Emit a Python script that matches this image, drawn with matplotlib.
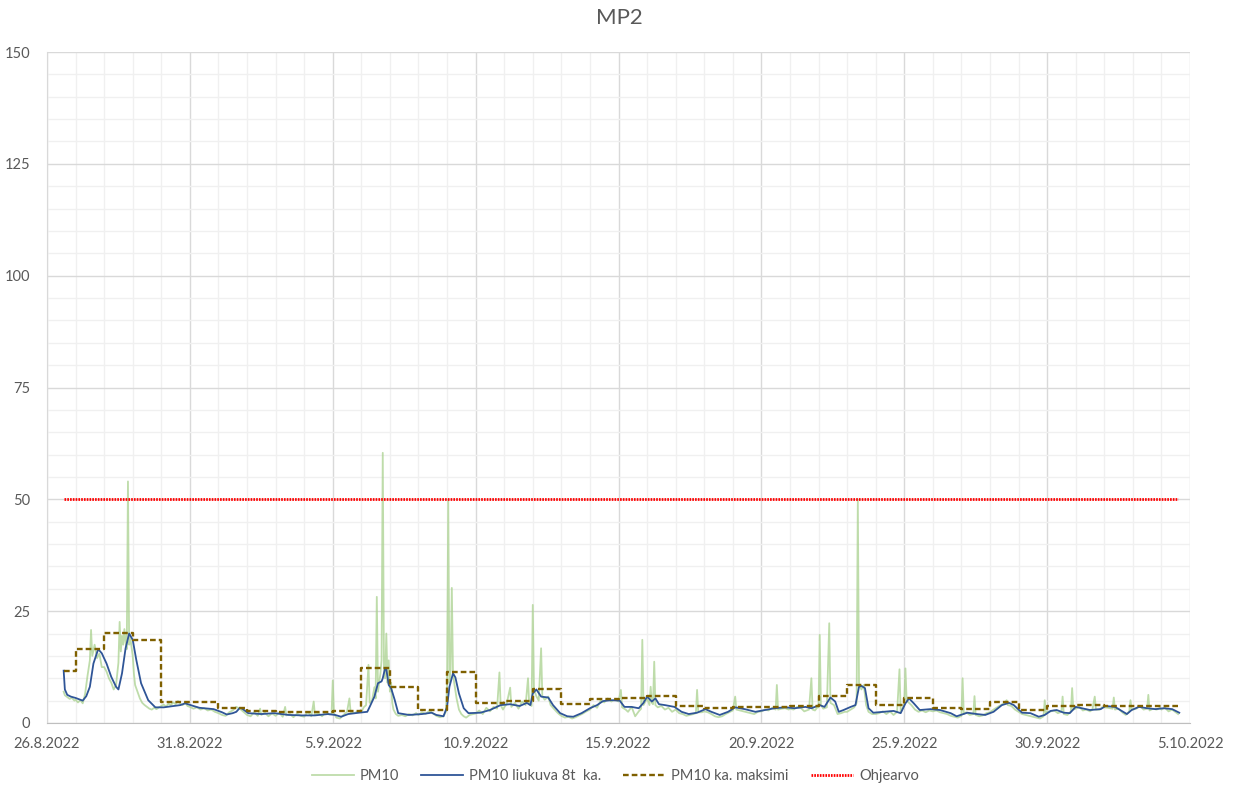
import matplotlib
matplotlib.use("Agg")
import matplotlib.pyplot as plt
import matplotlib.dates as mdates
from matplotlib.ticker import MultipleLocator, FuncFormatter
import pandas as pd

plt.rcParams['font.family'] = ['Lato', 'DejaVu Sans']

# hours counted from 26.8.2022 00:00
start = pd.Timestamp('2022-08-26')

# PM10 hourly readings (hour, ug/m3)
pm10 = [
    (14, 7.0), (15, 6.2), (17, 5.8), (19, 5.4), (21, 5.6), (23, 5.0),
    (24, 5.2), (26, 4.6), (28, 5.1), (30, 4.4), (32, 6.5), (34, 10.5), (36, 14.0), (37, 20.8), (38, 15.0),
    (40, 17.5), (42, 14.5), (44, 15.5), (46, 12.5),
    (48, 12.5), (50, 11.5), (52, 10.0), (54, 9.0), (56, 7.5), (58, 8.5), (60, 13.5), (61, 22.6), (62, 16.0),
    (63, 19.5), (64, 17.5), (65, 21.0), (66, 18.0), (67, 16.5), (68, 54.0), (69, 17.5), (70, 19.0),
    (72, 15.0), (73, 11.0), (74, 8.5), (76, 7.0), (78, 5.5), (80, 4.5), (82, 4.0), (84, 3.6), (86, 3.2),
    (88, 3.0), (90, 3.4), (92, 3.1), (94, 3.5),
    (96, 3.8), (98, 4.1), (100, 3.7), (102, 4.3), (104, 4.0), (106, 4.6), (108, 4.2), (110, 4.9), (112, 4.3),
    (114, 4.0), (116, 4.6), (118, 3.8),
    (120, 3.6), (123, 3.2), (126, 3.5), (129, 3.0), (132, 3.3), (135, 2.8), (138, 3.0), (141, 2.5),
    (144, 2.2), (147, 1.8), (150, 1.6), (153, 2.4), (156, 2.8), (159, 3.6), (162, 3.2), (165, 2.5),
    (168, 1.8), (171, 1.5), (174, 2.4), (177, 1.6), (179, 3.2), (180, 1.8), (183, 2.3), (186, 1.5), (189, 2.2),
    (192, 1.6), (195, 2.3), (198, 1.4), (200, 3.6), (201, 1.7), (204, 2.0), (207, 1.3), (210, 2.1), (213, 1.6),
    (216, 1.4), (219, 2.5), (222, 1.5), (224, 4.8), (225, 1.8), (228, 2.2), (231, 1.5), (234, 2.4), (237, 1.9),
    (239, 2.0), (240, 9.5), (241, 2.2), (243, 1.2), (246, 1.0), (249, 1.8), (252, 2.5), (254, 5.5), (255, 2.4),
    (258, 2.2), (261, 2.6),
    (264, 2.4), (266, 3.5), (268, 4.0), (270, 13.0), (271, 4.5), (273, 5.0), (275, 8.0), (276, 5.5), (277, 28.2),
    (278, 7.0), (280, 11.0), (281, 14.0), (282, 60.4), (283, 12.5), (284, 10.0), (285, 20.0), (286, 9.0), (287, 14.0),
    (288, 7.0), (289, 9.0), (290, 4.5), (291, 3.0), (293, 2.0), (295, 1.6), (298, 1.8), (301, 1.5), (304, 2.0),
    (307, 1.7), (310, 2.2),
    (312, 1.8), (315, 2.4), (318, 2.0), (321, 2.7), (324, 2.2), (327, 1.6), (330, 1.3), (333, 1.5),
    (335, 2.5), (336, 8.0), (337, 49.9), (338, 9.0), (339, 12.0), (340, 30.2), (341, 11.0), (342, 9.0), (344, 5.5),
    (346, 3.0), (348, 2.0), (350, 1.5), (352, 1.2), (355, 1.8), (358, 2.0),
    (360, 2.1), (363, 2.8), (366, 2.0), (369, 3.4), (372, 2.6), (375, 3.6), (378, 3.2), (380, 11.3), (381, 4.0), (383, 3.0),
    (384, 3.5), (386, 4.2), (389, 7.9), (390, 3.6), (393, 4.5), (396, 3.2), (399, 4.8), (402, 4.0), (404, 10.0),
    (405, 4.2), (407, 3.8),
    (408, 26.4), (409, 7.5), (411, 6.0), (413, 5.0), (415, 16.7), (416, 6.0), (418, 5.2), (421, 5.9), (423, 4.0),
    (425, 3.4), (428, 2.5), (430, 2.0),
    (432, 1.6), (435, 1.2), (438, 1.4), (441, 1.0), (444, 1.3), (447, 1.7), (450, 2.1), (453, 2.6),
    (456, 3.0), (459, 4.0), (462, 3.4), (465, 5.0), (468, 4.6), (471, 5.5), (474, 4.8), (477, 5.3),
    (480, 4.8), (482, 7.4), (483, 3.5), (486, 3.0), (488, 2.5), (491, 3.6), (494, 1.5), (497, 2.6), (499, 3.2),
    (500, 18.6), (501, 4.0), (503, 5.0),
    (504, 5.5), (506, 4.0), (507, 8.1), (508, 4.5), (509, 4.2), (510, 13.7), (511, 4.0), (513, 3.5), (516, 3.8),
    (519, 3.0), (522, 3.4), (525, 2.5),
    (528, 3.0), (531, 2.2), (534, 2.0), (537, 1.6), (540, 1.8), (543, 2.0), (545, 2.2), (546, 7.4), (547, 2.4), (550, 2.4),
    (552, 2.6), (555, 2.4), (558, 2.0), (561, 1.5), (564, 1.3), (567, 1.5), (570, 2.0), (573, 2.4),
    (576, 2.8), (578, 5.9), (579, 3.0), (582, 2.8), (585, 2.6), (588, 2.4), (591, 2.2), (594, 2.0), (597, 2.5),
    (600, 2.6), (603, 3.0), (606, 2.8), (609, 3.4), (612, 3.0), (613, 8.5), (614, 3.0), (617, 3.2), (620, 3.3), (623, 3.0),
    (624, 3.2), (627, 3.0), (630, 3.6), (633, 3.4), (636, 2.6), (640, 3.0), (642, 10.0), (643, 3.0), (645, 2.8), (647, 3.5),
    (648, 3.5), (649, 19.7), (650, 4.0), (652, 3.2), (655, 3.5), (657, 22.3), (658, 4.5), (661, 4.0), (664, 2.0),
    (667, 2.2), (670, 2.5),
    (672, 2.5), (675, 3.0), (678, 3.5), (680, 4.5), (681, 50.0), (682, 9.0), (684, 7.5), (686, 8.5), (688, 4.0),
    (690, 2.5), (693, 2.0),
    (696, 2.0), (699, 2.2), (702, 2.6), (705, 2.0), (708, 2.6), (711, 1.8), (714, 2.5), (716, 12.0), (717, 2.5), (719, 3.5),
    (720, 4.5), (721, 12.2), (722, 5.0), (724, 4.5), (726, 4.0), (729, 3.0), (732, 2.5), (735, 2.8), (738, 2.4), (741, 2.8),
    (744, 2.6), (747, 2.8), (750, 2.4), (753, 2.2), (756, 2.0), (759, 1.6), (762, 1.4), (765, 1.2),
    (768, 1.6), (769, 10.0), (770, 2.0), (772, 2.4), (775, 1.8), (778, 2.0), (779, 6.0), (780, 1.8), (783, 1.5),
    (786, 1.7), (789, 2.2),
    (792, 2.4), (795, 3.0), (798, 3.5), (801, 4.0), (804, 4.4), (806, 5.1), (807, 4.0), (810, 3.8), (813, 3.0),
    (816, 2.5), (819, 2.0), (822, 1.8), (825, 1.6), (828, 1.4), (831, 1.2), (834, 1.0), (837, 1.5), (838, 5.1), (839, 2.0),
    (840, 2.5), (843, 2.6), (846, 2.8), (849, 2.2), (852, 2.5), (853, 5.9), (854, 2.0), (857, 1.8), (860, 2.6),
    (861, 7.8), (862, 3.0),
    (864, 3.2), (867, 3.6), (870, 2.8), (873, 3.0), (876, 2.6), (878, 3.0), (880, 5.9), (881, 3.0), (884, 3.0), (886, 3.5),
    (888, 3.5), (891, 3.4), (895, 3.2), (896, 5.7), (897, 3.0), (900, 3.2), (903, 2.4), (906, 1.8), (909, 2.6),
    (910, 5.1), (911, 3.0),
    (912, 3.0), (915, 3.2), (918, 3.8), (921, 3.0), (924, 3.2), (925, 6.3), (926, 2.8), (929, 3.2), (932, 3.0), (935, 3.4),
    (936, 3.0), (939, 3.4), (942, 2.6), (945, 3.0), (948, 2.4), (950, 2.0),
]

# 8 h moving average (hour, ug/m3)
pm10_8h = [
    (14, 11.7), (15, 7.5), (17, 6.3), (20, 5.9), (24, 5.6), (27, 5.3), (30, 5.0), (33, 6.0), (36, 8.1),
    (39, 13.3), (43, 16.5), (46, 15.6), (50, 13.3), (54, 10.3), (58, 8.1), (60, 7.5), (63, 11.1), (66, 16.7),
    (69, 20.0), (72, 18.6), (75, 14.1), (79, 8.9), (85, 5.1), (91, 3.5), (98, 3.5), (106, 3.8), (112, 4.0),
    (116, 4.4), (123, 3.8), (128, 3.4), (140, 3.1), (147, 2.4), (151, 1.9), (156, 2.2), (159, 2.5), (162, 3.4),
    (164, 3.2), (169, 2.2), (180, 2.0), (191, 2.2), (203, 1.8), (214, 1.7), (225, 1.7), (236, 2.0), (242, 1.8),
    (247, 1.4), (253, 2.0), (262, 2.3), (269, 2.5), (271, 3.6), (275, 5.9), (278, 8.9), (281, 9.3), (282, 10.0),
    (284, 12.3), (285, 12.0), (287, 8.5), (289, 7.8), (292, 5.2), (295, 2.2), (304, 1.8), (315, 2.0), (323, 2.3),
    (327, 1.8), (333, 1.5), (336, 3.6), (338, 8.1), (341, 11.1), (343, 10.2), (346, 6.6), (350, 3.3), (354, 2.2),
    (364, 2.3), (372, 2.9), (381, 4.0), (389, 4.2), (397, 3.8), (403, 4.5), (406, 4.0), (408, 6.6), (411, 7.5),
    (415, 5.9), (421, 5.7), (425, 4.0), (431, 2.2), (437, 1.5), (442, 1.4), (449, 2.2), (456, 3.3), (462, 4.0),
    (467, 4.9), (474, 5.1), (481, 5.0), (485, 3.6), (491, 3.6), (497, 3.3), (501, 4.5), (504, 5.9), (508, 4.8),
    (511, 5.5), (514, 4.2), (519, 4.0), (527, 3.6), (533, 2.5), (539, 2.0), (546, 2.3), (553, 3.1), (558, 2.5),
    (565, 1.8), (572, 2.5), (578, 3.5), (586, 3.1), (595, 2.5), (603, 2.9), (611, 3.3), (620, 3.5), (628, 3.3),
    (637, 3.6), (642, 3.3), (649, 4.0), (653, 3.6), (658, 5.7), (662, 4.8), (665, 2.5), (669, 2.9), (675, 3.6),
    (679, 4.0), (682, 8.1), (684, 8.3), (687, 7.8), (690, 3.3), (694, 2.3), (703, 2.5), (711, 2.7), (717, 2.2),
    (721, 4.4), (724, 5.5), (728, 4.4), (733, 2.9), (742, 3.1), (750, 2.9), (759, 2.2), (764, 1.5), (773, 2.3),
    (781, 2.0), (788, 1.8), (795, 2.5), (802, 4.0), (808, 4.5), (812, 4.0), (816, 3.0), (819, 2.3), (826, 2.2),
    (833, 1.4), (838, 1.8), (843, 2.7), (848, 2.9), (854, 2.3), (859, 2.2), (864, 3.6), (869, 3.3), (876, 2.9),
    (885, 3.1), (889, 3.8), (897, 3.6), (904, 2.5), (907, 2.0), (911, 2.9), (917, 3.6), (924, 3.3), (931, 3.1),
    (938, 3.3), (945, 3.1), (951, 2.3),
]

# daily maximum of the 8 h average, 26.8. - 4.10.
daily_max = [11.7, 16.5, 20.2, 18.6, 4.7, 4.6, 3.4, 2.6, 2.5, 2.4,
             2.7, 12.4, 8.0, 3.0, 11.3, 4.5, 5.0, 7.6, 4.2, 5.4,
             5.7, 6.0, 3.8, 3.3, 3.6, 3.6, 3.8, 6.0, 8.6, 4.0,
             5.7, 3.4, 3.2, 4.6, 2.9, 3.7, 4.0, 3.9, 3.8, 3.7]
first_hour = 14
last_hour = 950
guide_value = 50

labels = ['PM10', 'PM10 liukuva 8t  ka.', 'PM10 ka. maksimi', 'Ohjearvo']


def to_time(hours):
    return start + pd.to_timedelta(list(hours), unit='h')


raw_t = to_time(h for h, v in pm10)
raw_v = [v for h, v in pm10]
avg_t = to_time(h for h, v in pm10_8h)
avg_v = [v for h, v in pm10_8h]

step_h = [first_hour] + [24 * d for d in range(1, len(daily_max))] + [last_hour]
step_t = to_time(step_h)
step_v = daily_max + [daily_max[-1]]

fig = plt.figure(figsize=(12.38, 7.85), dpi=100)
ax = fig.add_axes([47 / 1238, 1 - 723 / 785, (1190 - 47) / 1238, (723 - 52) / 785])

l1, = ax.plot(raw_t, raw_v, color='#A9D18E', lw=1.3, alpha=0.75)
l2, = ax.plot(avg_t, avg_v, color='#2F5597', lw=1.3)
l3, = ax.step(step_t, step_v, where='post', color='#7F6000', lw=1.7, linestyle=(0, (2.4, 1.3)))
l4, = ax.plot(to_time([first_hour, last_hour]), [guide_value, guide_value], color='#FF0000', lw=2.0,
              linestyle=(0, (0.6, 0.4)))

ax.set_ylim(0, 150)
ax.set_xlim(start, start + pd.Timedelta(days=40))
ax.yaxis.set_major_locator(MultipleLocator(25))
ax.yaxis.set_minor_locator(MultipleLocator(5))
ticks = to_time([24 * d for d in range(0, 41, 5)])
ax.set_xticks(ticks)
ax.xaxis.set_minor_locator(mdates.DayLocator())
ax.xaxis.set_major_formatter(FuncFormatter(
    lambda x, pos: '{0.day}.{0.month}.{0.year}'.format(mdates.num2date(x))))

ax.grid(which='major', color='#D9D9D9', lw=1.0)
ax.grid(which='minor', color='#F0F0F0', lw=1.0)
ax.set_axisbelow(True)
for s in ['top', 'right']:
    ax.spines[s].set_visible(False)
ax.spines['left'].set_color('#D9D9D9')
ax.spines['bottom'].set_color('#BFBFBF')
ax.tick_params(which='both', length=0, colors='#595959', labelsize=10.5)
ax.tick_params(axis='y', pad=12)
ax.tick_params(axis='x', pad=10)

fig.text(0.5, 1 - 18 / 785, 'MP2', ha='center', va='center', fontsize=16, color='#595959')

fig.legend([l1, l2, l3, l4], labels, loc='center', bbox_to_anchor=(0.497, 1 - 776 / 785), ncol=4,
           frameon=False, fontsize=10.5, handlelength=2.9, columnspacing=1.5, handletextpad=0.4,
           labelcolor='#595959')

fig.savefig('out.png', dpi=100)
